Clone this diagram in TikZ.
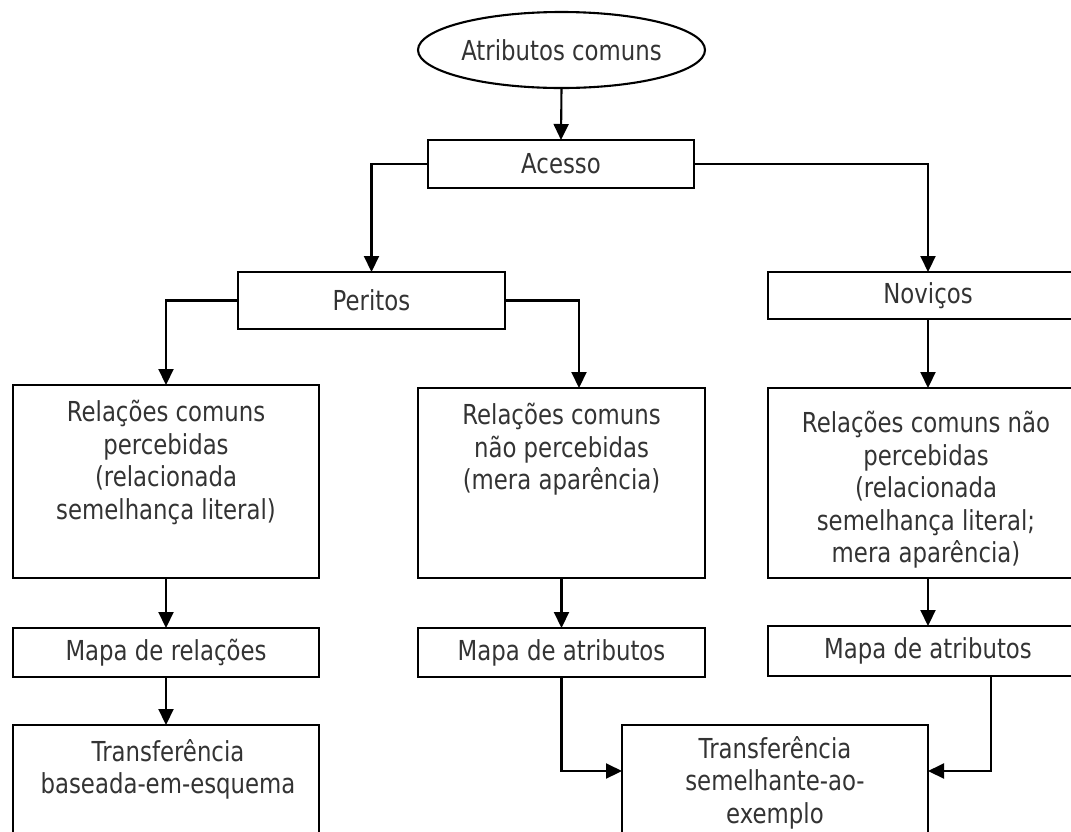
\documentclass[tikz,border=0pt]{standalone}
\usepackage{fontspec}
\usetikzlibrary{arrows.meta,shapes.geometric}
\newfontfamily\diafont{DejaVu Sans}[FakeStretch=0.83]
\definecolor{inkgray}{HTML}{333333}
\begin{document}
\begin{tikzpicture}[x=1pt,y=-1pt,
  box/.style={draw, line width=2.1pt, inner sep=0pt, outer sep=0pt},
  txt/.style={text=inkgray, font=\diafont\fontsize{27.5}{32.5}\selectfont, align=center, inner sep=0pt},
  arr/.style={line width=2.1pt, -{Triangle[length=16pt,width=15pt]}}]
\useasboundingbox (0,0) rectangle (1071,831);
\clip (0,0) rectangle (1071,831);

% top of the tree
\node[box, txt, ellipse, minimum width=287pt, minimum height=76pt] (attr) at (561.5,50) {Atributos comuns};
\node[box, txt, minimum width=266pt, minimum height=48pt] (acesso) at (561,164) {Acesso};
\node[box, txt, minimum width=267pt, minimum height=57pt] (peritos) at (371.5,300.5) {Peritos};
\node[box, txt, minimum width=320pt, minimum height=47pt] (novicos) at (928,295.5) {Noviços};

% relation boxes
\node[box, minimum width=306pt, minimum height=193pt] (lbig) at (166,481.5) {};
\node[box, minimum width=287pt, minimum height=190pt] (mbig) at (561.5,483) {};
\node[box, minimum width=320pt, minimum height=190pt] (rbig) at (928,483) {};
\node[txt, anchor=north] (lbigt) at (166,400) {Relações comuns\\percebidas\\(relacionada\\semelhança literal)};
\node[txt, anchor=north] (mbigt) at (561.5,403) {Relações comuns\\não percebidas\\(mera aparência)};
\node[txt, anchor=north] (rbigt) at (926,411) {Relações comuns não\\percebidas\\(relacionada\\semelhança literal;\\mera aparência)};

% maps
\node[box, txt, minimum width=306pt, minimum height=49pt] (lmapa) at (166,652.5) {Mapa de relações};
\node[box, txt, minimum width=287pt, minimum height=49pt] (mmapa) at (561.5,652.5) {Mapa de atributos};
\node[box, txt, minimum width=320pt, minimum height=50pt] (rmapa) at (928,651) {Mapa de atributos};

% transfer boxes
\node[box, minimum width=306pt, minimum height=175pt] (ltransf) at (166,812.5) {};
\node[box, minimum width=306pt, minimum height=175pt] (ctransf) at (775,812.5) {};
\node[txt, anchor=north] (ltransft) at (168,739) {Transferência\\baseada-em-esquema};
\node[txt, anchor=north] (ctransft) at (775,736) {Transferência\\semelhante-ao-\\exemplo};

% connectors
\draw[arr] (attr.south) -- (acesso.north);
\draw[arr] (acesso.west) -| (peritos.north);
\draw[arr] (acesso.east) -| (novicos.north);
\draw[arr] (peritos.west) -| (lbig.north);
\draw[arr] (peritos.east) -| ([xshift=17.5pt]mbig.north);
\draw[arr] (novicos.south) -- (rbig.north);
\draw[arr] (lbig.south) -- (lmapa.north);
\draw[arr] (lmapa.south) -- (ltransf.north);
\draw[arr] (mbig.south) -- (mmapa.north);
\draw[arr] (rbig.south) -- (rmapa.north);
\draw[arr] (mmapa.south) |- ([yshift=-46pt]ctransf.north west);
\draw[arr] ([xshift=63pt]rmapa.south) |- ([yshift=-46pt]ctransf.north east);
\end{tikzpicture}
\end{document}
